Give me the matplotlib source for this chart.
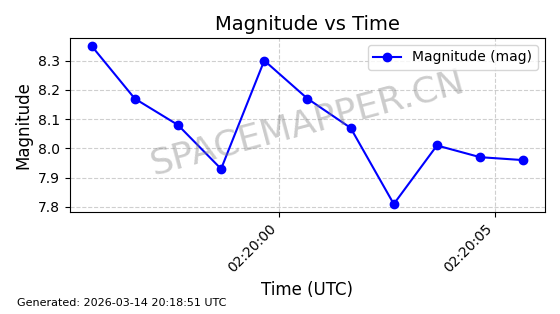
import matplotlib

matplotlib.use("Agg")
import matplotlib.pyplot as plt
import matplotlib.dates as mdates
import pandas as pd

times = pd.to_datetime([
    "2026-03-14 02:19:55.65", "2026-03-14 02:19:56.65", "2026-03-14 02:19:57.65",
    "2026-03-14 02:19:58.65", "2026-03-14 02:19:59.65", "2026-03-14 02:20:00.65",
    "2026-03-14 02:20:01.65", "2026-03-14 02:20:02.65", "2026-03-14 02:20:03.65",
    "2026-03-14 02:20:04.65", "2026-03-14 02:20:05.65",
])
magnitudes = [8.35, 8.17, 8.08, 7.93, 8.30, 8.17, 8.07, 7.81, 8.01, 7.97, 7.96]

fig, ax = plt.subplots(figsize=(5.6, 3.14), dpi=100)
fig.subplots_adjust(left=0.125, right=0.973, top=0.879, bottom=0.325)

ax.plot(times, magnitudes, color="blue", marker="o", linestyle="-", label="Magnitude (mag)")
ax.set_title("Magnitude vs Time", fontsize=14)
ax.set_xlabel("Time (UTC)", fontsize=12)
ax.set_ylabel("Magnitude", fontsize=12)
ax.grid(True, linestyle="--", alpha=0.6)
ax.legend(loc="upper right")

ax.xaxis.set_major_locator(mdates.SecondLocator(bysecond=range(0, 60, 5)))
ax.xaxis.set_major_formatter(mdates.DateFormatter("%H:%M:%S"))
plt.setp(ax.get_xticklabels(), rotation=45, ha="right")

# watermark
ax.text(0.5, 0.51, "SPACEMAPPER.CN", transform=ax.transAxes, fontsize=26,
        color="gray", alpha=0.4, rotation=15, ha="center", va="center")

fig.text(0.03, 0.025, "Generated: 2026-03-14 20:18:51 UTC", fontsize=8)

fig.savefig("out.png", dpi=100)
